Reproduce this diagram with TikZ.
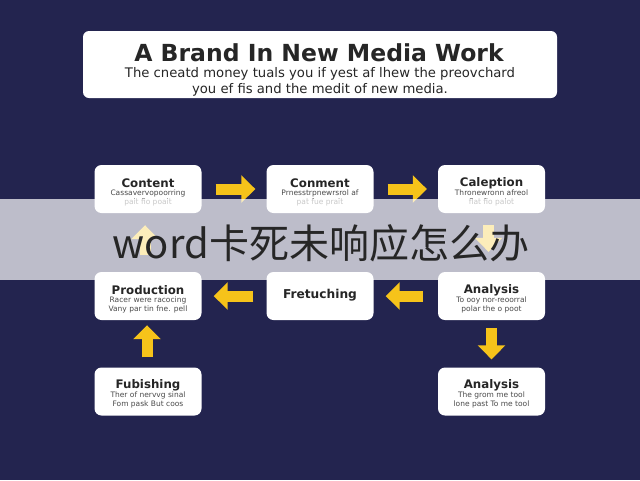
\documentclass[tikz,border=0pt]{standalone}
\usepackage{fontspec}
\setmainfont{DejaVu Sans}
\newfontfamily\cjk{Noto Sans CJK SC}
\usetikzlibrary{arrows.meta}
\definecolor{navy}{HTML}{23244F}
\definecolor{ylw}{HTML}{F6C31A}
\definecolor{ink}{HTML}{262626}
\definecolor{subink}{HTML}{4A4A4A}
\newcommand{\mkcard}[6]{%
  \node[card] (#1) at (#2,#3) {};
  \node[cardtitle] (#1-t) at (#2,#3-6) {#4};
  \node[cardsub] (#1-s) at (#2,#3+8.5) {#5\\#6};
}
\begin{document}
\begin{tikzpicture}[x=1pt,y=-1pt,
  card/.style={fill=white, rounded corners=7pt, minimum width=107pt, minimum height=48pt, inner sep=0pt},
  cardtitle/.style={text=ink, inner sep=0pt, font=\fontsize{11.8}{13}\selectfont\bfseries},
  cardsub/.style={text=subink, inner sep=0pt, align=center, font=\fontsize{7.5}{9}\selectfont},
  blockarrow/.style={draw=ylw, line width=11pt, -{Triangle[length=14pt,width=27pt]}}
]
\useasboundingbox (0,0) rectangle (640,480);
\fill[navy] (0,0) rectangle (640,480);

% header card
\node[fill=white, rounded corners=6pt, minimum width=474pt, minimum height=67pt, inner sep=0pt] (header) at (320,64.5) {};
\node[text=ink, font=\fontsize{23.5}{26}\selectfont\bfseries, inner sep=0pt] (ttl) at (319,53) {A Brand In New Media Work};
\node[text=ink, font=\fontsize{13.2}{16}\selectfont, align=center, inner sep=0pt] (subttl) at (320,82) {The cneatd money tuals you if yest af lhew the preovchard\\you ef fis and the medit of new media.};

% cards
\mkcard{content}{148}{189}{Content}{Cassavervopoorring}{pait fio poait}
\mkcard{comment}{320}{189}{Conment}{Prnesstrpnewrsrol af}{pat fue prait}
\mkcard{caleption}{491.5}{189}{Caleption}{Thronewronn afreol}{flat fio palot}
\mkcard{production}{148}{296}{Production}{Racer were racocing}{Vany par tin fne. pell}
\node[card] (fretuching) at (320,296) {};
\node[text=ink, inner sep=0pt, font=\fontsize{12.2}{15}\selectfont\bfseries] (fretuching-t) at (320,295) {Fretuching};
\mkcard{analysis}{491.5}{296}{Analysis}{To ooy nor-reoorral}{polar the o poot}
\mkcard{fubishing}{148}{391.5}{Fubishing}{Ther of nervvg sinal}{Fom pask But coos}
\mkcard{analysisb}{491.5}{391.5}{Analysis}{The grom me tool}{lone past To me tool}

% arrows
\draw[blockarrow, shorten <=14pt, shorten >=11pt] (content.east) -- (comment.west);
\draw[blockarrow, shorten <=14pt, shorten >=11pt] (comment.east) -- (caleption.west);
\draw[blockarrow, shorten <=13pt, shorten >=12pt] (fretuching.west) -- (production.east);
\draw[blockarrow, shorten <=15pt, shorten >=12pt] (analysis.west) -- (fretuching.east);
\draw[blockarrow, shorten <=10pt, shorten >=5pt] ([xshift=-1pt]fubishing.north) -- ([xshift=-1pt]production.south);
\draw[blockarrow, shorten <=8pt, shorten >=8pt] (analysis.south) -- (analysisb.north);
\draw[blockarrow, shorten <=17pt, shorten >=12pt] ([xshift=-3pt]production.north) -- ([xshift=-3pt]content.south);
\draw[blockarrow, shorten <=12pt, shorten >=20pt] ([xshift=-3pt]caleption.south) -- ([xshift=-3pt]analysis.north);

% overlay band
\fill[white, opacity=0.7] (0,199) rectangle (640,280);
\node[text=ink, font=\cjk\fontsize{40}{44}\selectfont, inner sep=0pt] (banner) at (321,243) {word卡死未响应怎么办};
\end{tikzpicture}
\end{document}
